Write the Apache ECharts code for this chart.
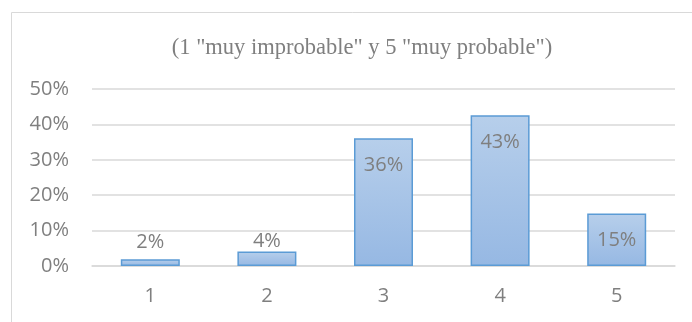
<!DOCTYPE html>
<html>
<head>
<meta charset="utf-8">
<script src="https://cdn.jsdelivr.net/npm/echarts@6/dist/echarts.min.js"></script>
<style>
html,body{margin:0;padding:0;background:#fff;}
#c{width:692px;height:322px;}
</style>
</head>
<body>
<div id="c"></div>
<script>
var titleText = '(1 "muy improbable" y 5 "muy probable")';
var categories = ['1', '2', '3', '4', '5'];
var values = [1.9, 4.1, 36.1, 42.6, 14.8];
var yTicks = [0, 10, 20, 30, 40, 50];

var chart = echarts.init(document.getElementById('c'), null, {renderer: 'canvas'});
var labelFont = {fontFamily: 'Open Sans', fontSize: 20, color: '#7f7f7f'};

var seriesData = values.map(function (v, i) {
  var item = {value: v};
  if (v < 10) {
    item.label = {position: 'top', distance: v < 3 ? 7 : 0};
  }
  return item;
});

chart.setOption({
  animation: false,
  title: {
    text: titleText,
    left: 357, top: 32, textAlign: 'center',
    textStyle: {fontFamily: 'Liberation Serif', fontWeight: 'normal', fontSize: 22.5, color: '#7f7f7f'}
  },
  graphic: [{
    type: 'rect', silent: true,
    shape: {x: 11.5, y: 12.5, width: 720, height: 340},
    style: {fill: 'none', stroke: '#d9d9d9', lineWidth: 1}
  }],
  grid: {left: 92, right: 17, top: 89, bottom: 56},
  xAxis: {
    type: 'category',
    data: categories,
    axisLine: {show: true, lineStyle: {color: '#d9d9d9', width: 1.5}},
    axisTick: {show: false},
    axisLabel: Object.assign({margin: 20}, labelFont)
  },
  yAxis: {
    type: 'value',
    min: yTicks[0], max: yTicks[yTicks.length - 1], interval: 10,
    axisLine: {show: false},
    axisTick: {show: false},
    splitLine: {lineStyle: {color: '#d9d9d9', width: 1.5}},
    axisLabel: Object.assign({margin: 23, formatter: '{value}%'}, labelFont)
  },
  series: [{
    type: 'bar',
    data: seriesData,
    barWidth: 59,
    itemStyle: {
      color: new echarts.graphic.LinearGradient(0, 0, 0, 1, [
        {offset: 0, color: '#b7cfeb'},
        {offset: 1, color: '#96b8e3'}
      ]),
      borderColor: '#5b9bd5',
      borderWidth: 1.5
    },
    label: Object.assign({
      show: true,
      position: 'insideTop',
      distance: 17,
      formatter: function (p) { return Math.round(p.value) + '%'; }
    }, labelFont)
  }]
});
</script>
</body>
</html>
